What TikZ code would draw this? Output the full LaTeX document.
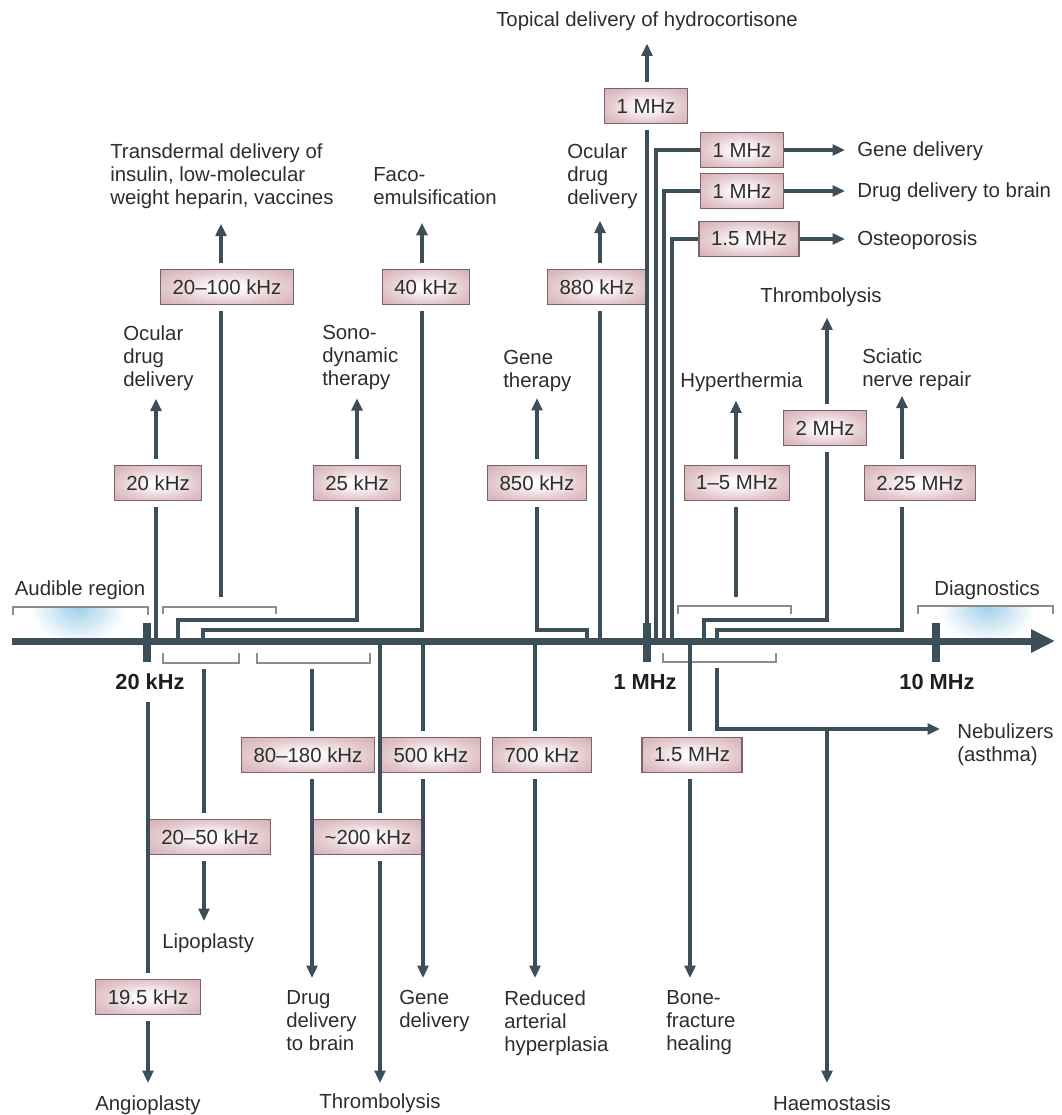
\documentclass[tikz,border=0pt]{standalone}
\usepackage{fontspec}
\setmainfont{Liberation Sans}
\usetikzlibrary{arrows.meta}

\definecolor{slate}{RGB}{60,78,88}
\definecolor{txt}{RGB}{45,45,45}
\definecolor{brk}{RGB}{140,140,140}
\definecolor{rose}{RGB}{203,160,168}
\definecolor{rosemid}{RGB}{228,202,207}
\definecolor{roseline}{RGB}{125,98,104}
\definecolor{glow}{RGB}{160,208,232}
\pgfdeclareradialshading{freqglow}{\pgfpoint{0bp}{0bp}}{color(0bp)=(white); color(4bp)=(white);
  color(22bp)=(rosemid); color(42bp)=(rose); color(100bp)=(rose)}
\newcommand{\lblfont}{\fontsize{14.5}{16.4}\selectfont}

\tikzset{
  freq/.style={draw=roseline, line width=0.8pt, shading=freqglow,
    minimum height=0.875cm, inner xsep=0.3cm, inner ysep=0pt, text=txt, font=\lblfont},
  lbl/.style={align=left, inner sep=0pt, text=txt, font=\lblfont},
  tick/.style={inner sep=0pt, text=black!88, font=\bfseries\fontsize{15.5}{18}\selectfont},
  link/.style={slate, line width=0.1cm, shorten >=0.15cm},
  lead/.style={slate, line width=0.1cm, shorten <=0.15cm, shorten >=0.225cm,
    -{Triangle[length=0.31cm,width=0.27cm]}},
  brace/.style={brk, line width=0.8pt},
}

\begin{document}
\begin{tikzpicture}[x=0.025cm, y=-0.025cm]
\useasboundingbox (0,0) rectangle (1062,1115);

% glows
\begin{scope}
  \clip (13,607) rectangle (148,641);
  \shade[inner color=glow, outer color=white] (78,607) ellipse [x radius=48, y radius=38];
\end{scope}
\begin{scope}
  \clip (918,606) rectangle (1053,641);
  \shade[inner color=glow, outer color=white] (987,606) ellipse [x radius=48, y radius=38];
\end{scope}

% brackets
\draw[brace] (13,615) |- (148,607) -- (148,615);
\draw[brace] (163,614) |- (276,607) -- (276,614);
\draw[brace] (163,653) |- (239,663) -- (239,653);
\draw[brace] (257,653) |- (370,663) -- (370,653);
\draw[brace] (678,614) |- (791,606) -- (791,614);
\draw[brace] (663,653) |- (776,662) -- (776,653);
\draw[brace] (918,614) |- (1053,606) -- (1053,614);
\node[lbl, anchor=base] (audible) at (80,595) {Audible region};
\node[lbl, anchor=base] (diagn) at (987,595) {Diagnostics};

% axis
\coordinate (axL) at (12,641);
\coordinate (axR) at (1055,641);
\draw[slate, line width=0.175cm, -{Triangle[length=0.6cm,width=0.55cm]}] (axL) -- (axR);
\foreach \x in {147,647,936}
  \draw[slate, line width=0.18cm] (\x,623) -- (\x,662);
\node[tick, anchor=base] (t20) at (150,689) {20 kHz};
\node[tick, anchor=base] (t1) at (645,689) {1 MHz};
\node[tick, anchor=base] (t10) at (937,689) {10 MHz};

% where the lines meet the axis and the brackets
\coordinate (a20) at (156,641);
\coordinate (brA) at (221,607);
\coordinate (a25) at (178,641);   \coordinate (c25) at (357,620);
\coordinate (a40) at (203,641);   \coordinate (c40) at (422,630);
\coordinate (a850) at (587,641);  \coordinate (c850) at (537,630);
\coordinate (a880) at (600,641);
\coordinate (a1) at (647,641);
\coordinate (a1gene) at (656,641);
\coordinate (a1brain) at (664,641);
\coordinate (a15o) at (672,641);
\coordinate (brR) at (736,606);
\coordinate (a2) at (704,641);    \coordinate (c2) at (827,620);
\coordinate (a225) at (717,641);  \coordinate (c225) at (902,630);
\coordinate (brLA) at (204,663);
\coordinate (brLB) at (312,663);
\coordinate (a200) at (380,641);
\coordinate (a500) at (423,641);
\coordinate (a700) at (535,641);
\coordinate (a15h) at (690,641);
\coordinate (brLR) at (717,662);
\coordinate (nj) at (717,729);
\coordinate (hj) at (827,729);

% frequency boxes
\node[freq] (f20) at (158,483) {20 kHz};
\node[freq] (f20100) at (227,287) {20–100 kHz};
\node[freq] (f25) at (357,483) {25 kHz};
\node[freq] (f40) at (426,287) {40 kHz};
\node[freq] (f850) at (537,483) {850 kHz};
\node[freq] (f880) at (597,287) {880 kHz};
\node[freq] (f1top) at (646,106) {1 MHz};
\node[freq] (f1gene) at (742,150) {1 MHz};
\node[freq] (f1brain) at (742,191) {1 MHz};
\node[freq] (f15o) at (749,239) {1.5 MHz};
\node[freq] (f1to5) at (737,483) {1–5 MHz};
\node[freq] (f2) at (825,428) {2 MHz};
\node[freq] (f225) at (920,483) {2.25 MHz};
\node[freq] (f195) at (148,997) {19.5 kHz};
\node[freq] (f2050) at (210,837) {20–50 kHz};
\node[freq] (f80) at (308,755) {80–180 kHz};
\node[freq] (f200) at (368,837) {\textasciitilde200 kHz};
\node[freq] (f500) at (431,755) {500 kHz};
\node[freq] (f700) at (542,755) {700 kHz};
\node[freq] (f15h) at (692,755) {1.5 MHz};

% applications
\node[lbl, anchor=north west] (ocul20) at (123,325) {Ocular\\drug\\delivery};
\node[lbl, anchor=north west] (transd) at (110,143) {Transdermal delivery of\\insulin, low-molecular\\weight heparin, vaccines};
\node[lbl, anchor=north west] (sono) at (322,325) {Sono-\\dynamic\\therapy};
\node[lbl, anchor=north west] (faco) at (373,167) {Faco-\\emulsification};
\node[lbl, anchor=north west] (genether) at (503,350) {Gene\\therapy};
\node[lbl, anchor=north west] (ocul880) at (567,143) {Ocular\\drug\\delivery};
\node[lbl, anchor=base] (topical) at (647,27) {Topical delivery of hydrocortisone};
\node[lbl, anchor=base west] (genedel) at (857,157) {Gene delivery};
\node[lbl, anchor=base west] (brain) at (857,198) {Drug delivery to brain};
\node[lbl, anchor=base west] (osteo) at (857,246) {Osteoporosis};
\node[lbl, anchor=north west] (hyper) at (680,372) {Hyperthermia};
\node[lbl, anchor=north west] (thrombup) at (760,287) {Thrombolysis};
\node[lbl, anchor=north west] (sciatic) at (862,348) {Sciatic\\nerve repair};
\node[lbl, anchor=north] (angio) at (148,1095) {Angioplasty};
\node[lbl, anchor=north west] (lipo) at (162,933) {Lipoplasty};
\node[lbl, anchor=north west] (brainlow) at (286,990) {Drug\\delivery\\to brain};
\node[lbl, anchor=north] (thrombdn) at (380,1093) {Thrombolysis};
\node[lbl, anchor=north west] (genelow) at (399,990) {Gene\\delivery};
\node[lbl, anchor=north west] (reduced) at (504,990) {Reduced\\arterial\\hyperplasia};
\node[lbl, anchor=north west] (bone) at (666,990) {Bone-\\fracture\\healing};
\node[lbl, anchor=north west] (nebul) at (957,723) {Nebulizers\\(asthma)};
\node[lbl, anchor=north] (haemo) at (832,1095) {Haemostasis};

% lines up from the axis
\draw[link] (a20) -- (f20.south -| a20);
\draw[link, shorten <=0.25cm] (brA) -- (f20100.south -| brA);
\draw[link] (a25) |- (c25) -- (f25.south -| c25);
\draw[link] (a40) |- (c40) -- (f40.south -| c40);
\draw[link] (a850) |- (c850) -- (f850.south -| c850);
\draw[link] (a880) -- (f880.south -| a880);
\draw[link] (a1) -- (f1top.south -| a1);
\draw[link, shorten >=0pt] (a1gene) |- (f1gene.west);
\draw[link, shorten >=0pt] (a1brain) |- (f1brain.west);
\draw[link, shorten >=0pt] (a15o) |- (f15o.west);
\draw[link, shorten <=0.225cm] (brR) -- (f1to5.south -| brR);
\draw[link] (a2) |- (c2) -- (f2.south -| c2);
\draw[link] (a225) |- (c225) -- (f225.south -| c225);

\draw[lead, shorten >=0.2cm] (f20.north -| a20) -- (a20 |- ocul20.south);
\draw[lead, shorten >=0.375cm] (f20100.north -| brA) -- (brA |- transd.south);
\draw[lead, shorten >=0.2cm] (f25.north -| c25) -- (c25 |- sono.south);
\draw[lead, shorten >=0.45cm] (f40.north -| c40) -- (c40 |- faco.south);
\draw[lead, shorten >=0.15cm] (f850.north -| c850) -- (c850 |- genether.south);
\draw[lead, shorten >=0.3cm] (f880.north -| a880) -- (a880 |- ocul880.south);
\draw[lead, shorten >=0.3cm] (f1top.north -| a1) -- (a1 |- topical.south);
\draw[lead, shorten <=0pt, shorten >=0.3cm] (f1gene.east) -- (f1gene.east -| genedel.west);
\draw[lead, shorten <=0pt, shorten >=0.3cm] (f1brain.east) -- (f1brain.east -| brain.west);
\draw[lead, shorten <=0pt, shorten >=0.3cm] (f15o.east) -- (f15o.east -| osteo.west);
\draw[lead] (f1to5.north -| brR) -- (brR |- hyper.south);
\draw[lead, shorten >=0.275cm] (f2.north -| c2) -- (c2 |- thrombup.south);
\draw[lead, shorten >=0.125cm] (f225.north -| c225) -- (c225 |- sciatic.south);

% lines down from the axis
\draw[link, shorten <=0.3cm] (t20.south -| f195) -- (f195.north);
\draw[link, shorten <=0.15cm] (brLA) -- (f2050.north -| brLA);
\draw[link, shorten <=0.15cm] (brLB) -- (f80.north -| brLB);
\draw[link] (a200) -- (f200.north -| a200);
\draw[link] (a500) -- (f500.north -| a500);
\draw[link] (a700) -- (f700.north -| a700);
\draw[link] (a15h) -- (f15h.north -| a15h);

\draw[lead, shorten >=0.3cm] (f195.south) -- (angio.north);
\draw[lead, shorten >=0.3cm] (f2050.south -| brLA) -- (brLA |- lipo.north);
\draw[lead, shorten >=0.3cm] (f80.south -| brLB) -- (brLB |- brainlow.north);
\draw[lead, shorten >=0.25cm] (f200.south -| a200) -- (a200 |- thrombdn.north);
\draw[lead, shorten >=0.3cm] (f500.south -| a500) -- (a500 |- genelow.north);
\draw[lead, shorten >=0.3cm] (f700.south -| a700) -- (a700 |- reduced.north);
\draw[lead, shorten >=0.3cm] (f15h.south -| a15h) -- (a15h |- bone.north);
\draw[lead, shorten >=0.425cm] (brLR) -- (nj) -- (nj -| nebul.west);
\draw[lead, shorten <=0pt, shorten >=0.3cm] (hj) -- (hj |- haemo.north);
\end{tikzpicture}
\end{document}
